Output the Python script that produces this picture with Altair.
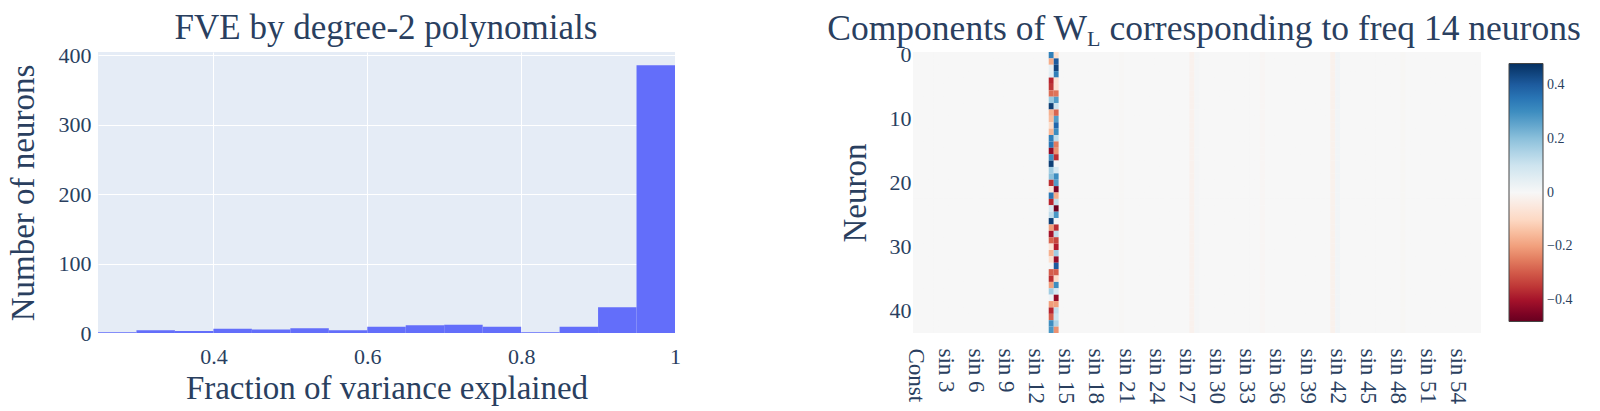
import altair as alt
import pandas as pd

FONT = "Liberation Serif"
TXT = "#2a3f5f"

# ---------------- Histogram data (FVE by degree-2 polynomials) ----------------
bin_starts = [0.25, 0.30, 0.35, 0.40, 0.45, 0.50, 0.55, 0.60, 0.65, 0.70, 0.75, 0.80, 0.85, 0.90, 0.95]
bin_ends = [0.30, 0.35, 0.40, 0.45, 0.50, 0.55, 0.60, 0.65, 0.70, 0.75, 0.80, 0.85, 0.90, 0.95, 1.00]
counts = [1, 4, 3, 6, 5, 7, 4, 9, 11, 12, 9, 1, 9, 37, 386]
x_ticks = [0.4, 0.6, 0.8, 1.0]
y_ticks = [0, 100, 200, 300, 400]

# ---------------- Heatmap data (components of W_L) ----------------
col_names = ["Const"] + [f"{t} {k}" for k in range(1, 57) for t in ("cos", "sin")]
x_tick_labels = col_names[::6]
neuron_ticks = [0, 10, 20, 30, 40]
n_neurons = 44

cos14 = [0.33, -0.18, 0.04, 0.05, -0.37, -0.35, -0.27, 0.18, 0.45, -0.17,
         -0.15, -0.09, -0.16, 0.33, 0.35, -0.42, 0.30, 0.45, 0.17, 0.20,
         -0.36, -0.06, 0.35, -0.37, 0.08, 0.12, 0.45, -0.20, -0.40, -0.28,
         -0.06, -0.17, -0.08, 0.01, -0.29, -0.36, -0.20, 0.17, 0.02, -0.20,
         -0.37, -0.29, 0.30, 0.28]
sin14 = [-0.08, 0.40, 0.44, 0.33, -0.07, -0.07, -0.26, 0.27, 0.10, -0.28,
         0.27, 0.38, 0.30, 0.12, -0.25, -0.22, -0.36, 0.01, 0.08, 0.30,
         0.27, -0.45, -0.18, 0.12, -0.47, 0.28, 0.01, -0.36, 0.12, -0.33,
         -0.38, 0.17, -0.42, 0.40, -0.29, -0.09, 0.30, 0.08, -0.42, -0.20,
         0.12, 0.10, 0.15, -0.22]
faint_cols = {"cos 21": -0.004, "cos 28": -0.02, "sin 28": 0.008, "cos 35": -0.006,
              "cos 42": -0.022, "sin 42": 0.015, "cos 49": -0.005}

rdbu = ["#67001f", "#b2182b", "#d6604d", "#f4a582", "#fddbc7", "#f7f7f7",
        "#d1e5f0", "#92c5de", "#4393c3", "#2166ac", "#053061"]
stops = [-0.478, -0.3824, -0.2868, -0.1912, -0.0956, 0.0, 0.0956, 0.1912, 0.2868, 0.3824, 0.478]
cbar_ticks = [-0.4, -0.2, 0, 0.2, 0.4]

rows = []
for ci, name in enumerate(col_names):
    for n in range(n_neurons):
        if name == "cos 14":
            v = cos14[n]
        elif name == "sin 14":
            v = sin14[n]
        else:
            v = faint_cols.get(name, 0.0)
        rows.append({"basis": name, "neuron": n, "value": v})
heat_df = pd.DataFrame(rows)

hist_df = pd.DataFrame({"start": bin_starts, "end": bin_ends, "count": counts})

LW, RW, H = 577, 568, 281
GAP = 238

# ---------------- Left panel ----------------
bars = alt.Chart(hist_df).mark_bar(color="#636efa", strokeWidth=0).encode(
    x=alt.X("start:Q",
            scale=alt.Scale(domain=[0.25, 1.0], nice=False, zero=False),
            axis=alt.Axis(values=x_ticks, title="Fraction of variance explained",
                          labelExpr="datum.value == 1 ? '1' : format(datum.value, '.1f')",
                          labelPadding=13, titlePadding=5, grid=True, labelFlush=False,
                          labelFontSize=22, titleFontSize=33)),
    x2="end:Q",
    y=alt.Y("count:Q",
            scale=alt.Scale(domain=[0, 405], nice=False),
            axis=alt.Axis(values=y_ticks, title="Number of neurons",
                          labelPadding=7, titlePadding=18, grid=True,
                          labelFontSize=22, titleFontSize=33)),
    y2=alt.datum(0),
)
left_title = alt.Chart(pd.DataFrame({"t": ["FVE by degree-2 polynomials"]})).mark_text(
    font=FONT, fontSize=35, color=TXT, align="center", baseline="alphabetic"
).encode(text="t:N", x=alt.value(288), y=alt.value(-13))

left = alt.layer(bars, left_title).properties(
    width=LW, height=H, view=alt.ViewBackground(fill="#E5ECF6", strokeWidth=0))

# ---------------- Right panel ----------------
heat = alt.Chart(heat_df).mark_rect().encode(
    x=alt.X("basis:N", sort=col_names,
            scale=alt.Scale(paddingInner=0, paddingOuter=0),
            axis=alt.Axis(values=x_tick_labels, labelAngle=90, labelAlign="left",
                          labelBaseline="middle", labelPadding=15, title=None,
                          grid=False, labelOverlap=False, labelFontSize=23)),
    y=alt.Y("neuron:O",
            scale=alt.Scale(paddingInner=0, paddingOuter=0),
            axis=alt.Axis(values=neuron_ticks, labelAngle=0, title="Neuron",
                          labelPadding=2, titlePadding=17, grid=False,
                          labelFontSize=22, titleFontSize=33)),
    color=alt.Color("value:Q", scale=alt.Scale(domain=stops, range=rdbu), title=None,
                    legend=alt.Legend(orient="none", legendX=LW + GAP + 596, legendY=11.5,
                                      direction="vertical", gradientLength=258,
                                      gradientThickness=34, gradientStrokeColor="#444",
                                      gradientStrokeWidth=1, values=cbar_ticks,
                                      labelExpr="datum.value == 0 ? '0' : format(datum.value, '.1f')",
                                      labelFont=FONT, labelFontSize=14, labelColor=TXT,
                                      labelOffset=4)),
)

t_parts = pd.DataFrame({"t": ["x"]})
rt1 = alt.Chart(t_parts).mark_text(font=FONT, fontSize=35.5, color=TXT, align="right",
                                   baseline="alphabetic", text="Components of W"
                                   ).encode(x=alt.value(174), y=alt.value(-12.5))
rt2 = alt.Chart(t_parts).mark_text(font=FONT, fontSize=22, color=TXT, align="left",
                                   baseline="alphabetic", text="L"
                                   ).encode(x=alt.value(174), y=alt.value(-6))
rt3 = alt.Chart(t_parts).mark_text(font=FONT, fontSize=35.5, color=TXT, align="left",
                                   baseline="alphabetic", text="corresponding to freq 14 neurons"
                                   ).encode(x=alt.value(196.5), y=alt.value(-12.5))

right = alt.layer(heat, rt1, rt2, rt3).properties(
    width=RW, height=H, view=alt.ViewBackground(fill="#f7f7f7", strokeWidth=0))

chart = alt.hconcat(left, right, spacing=GAP, bounds="flush").properties(
    padding={"left": -2, "top": 3, "right": 5, "bottom": 5}
).configure(font=FONT).configure_axis(
    labelFont=FONT, titleFont=FONT, labelColor=TXT, titleColor=TXT,
    labelFontSize=22, titleFontSize=33, titleFontWeight="normal",
    ticks=False, domain=False, gridColor="#ffffff", gridWidth=1
)

chart.save("out.html", embed_options={"renderer": "svg", "actions": False})
